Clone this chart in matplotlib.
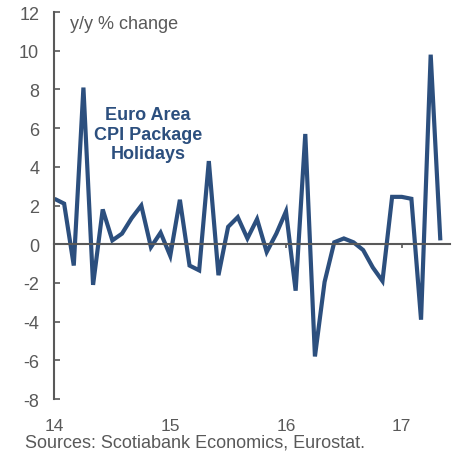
import matplotlib
matplotlib.use("Agg")
import matplotlib.pyplot as plt
import numpy as np

# monthly y/y % change, Jan 2014 - May 2017
values = [2.35, 2.1, -1.1, 8.1, -2.1, 1.8, 0.2, 0.55, 1.35, 2.0, -0.15, 0.6,
          -0.6, 2.3, -1.1, -1.35, 4.3, -1.6, 0.9, 1.4, 0.3, 1.3, -0.4, 0.55,
          1.7, -2.4, 5.7, -5.8, -1.95, 0.1, 0.3, 0.1, -0.3, -1.2, -1.9, 2.45,
          2.45, 2.35, -3.9, 9.8, 0.2]
x = 14 + np.arange(len(values)) / 12.0

year_ticks = [14, 15, 16, 17]
y_ticks = list(range(-8, 13, 2))

grey = "#595959"
blue = "#2c4f7e"

plt.rcParams["font.family"] = ["Liberation Sans", "DejaVu Sans"]
plt.rcParams["axes.unicode_minus"] = False

fig = plt.figure(figsize=(4.54, 4.52), dpi=100)
ax = fig.add_axes([0.12, 0.115, 0.872, 0.856])

ax.plot(x, values, color=blue, lw=3, solid_joinstyle="miter", solid_capstyle="butt")

ax.set_xlim(14, 17.42)
ax.set_ylim(-8, 12)
ax.set_yticks(y_ticks)
ax.set_xticks(year_ticks)
ax.set_xticklabels([str(t) for t in year_ticks])

for s in ["top", "right"]:
    ax.spines[s].set_visible(False)
ax.spines["left"].set_color(grey)
ax.spines["left"].set_linewidth(1.5)
ax.spines["bottom"].set_position(("data", 0))
ax.spines["bottom"].set_color(grey)
ax.spines["bottom"].set_linewidth(1.5)

ax.tick_params(axis="y", direction="in", length=4, width=1.2, color=grey,
               labelcolor=grey, labelsize=13, pad=11)
ax.tick_params(axis="x", direction="out", length=3, width=1.2, color=grey,
               labelcolor=grey, labelsize=12.5, pad=122)

ax.text(0.039, 0.992, "y/y % change", transform=ax.transAxes, color=grey,
        fontsize=13, va="top", ha="left")
ax.text(0.236, 0.757, "Euro Area\nCPI Package\nHolidays", transform=ax.transAxes,
        color=blue, fontsize=13, fontweight="bold", ha="center", va="top",
        linespacing=1.2)

fig.text(0.055, 0.009, "Sources: Scotiabank Economics, Eurostat.", color=grey,
         fontsize=13, ha="left", va="baseline")

fig.savefig("out.png", dpi=100)
